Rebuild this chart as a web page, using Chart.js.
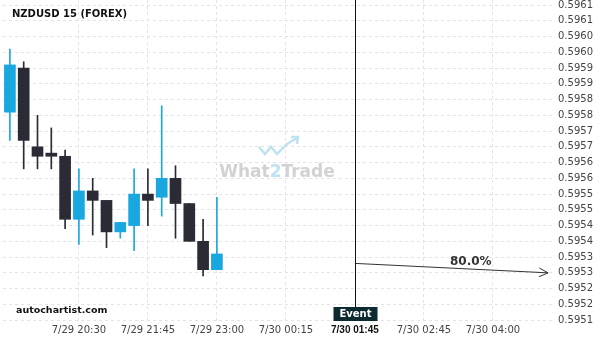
<!DOCTYPE html>
<html>
<head>
<meta charset="utf-8">
<script src="https://cdn.jsdelivr.net/npm/chart.js@4"></script>
<style>
  html, body { margin: 0; padding: 0; background: #fff; }
  #wrap { width: 600px; height: 340px; position: relative; }
</style>
</head>
<body>
<div id="wrap"><canvas id="myChart"></canvas></div>
<script>
// 15 minute candles, NZDUSD
const times = [
  '7/29 19:15', '7/29 19:30', '7/29 19:45', '7/29 20:00', '7/29 20:15',
  '7/29 20:30', '7/29 20:45', '7/29 21:00', '7/29 21:15', '7/29 21:30',
  '7/29 21:45', '7/29 22:00', '7/29 22:15', '7/29 22:30', '7/29 22:45',
  '7/29 23:00', '7/29 23:15', '7/29 23:30', '7/29 23:45', '7/30 00:00',
  '7/30 00:15', '7/30 00:30', '7/30 00:45', '7/30 01:00', '7/30 01:15',
  '7/30 01:30', '7/30 01:45', '7/30 02:00', '7/30 02:15', '7/30 02:30',
  '7/30 02:45', '7/30 03:00', '7/30 03:15', '7/30 03:30', '7/30 03:45',
  '7/30 04:00', '7/30 04:15', '7/30 04:30', '7/30 04:45', '7/30 05:00'
];
const opens  = [0.59576, 0.59590, 0.59565, 0.59563, 0.59562, 0.59542, 0.59551, 0.59548, 0.59538, 0.59540, 0.59550, 0.59549, 0.59555, 0.59547, 0.59535, 0.59526];
const highs  = [0.59596, 0.59592, 0.59575, 0.59571, 0.59564, 0.59558, 0.59555, 0.59548, 0.59541, 0.59558, 0.59558, 0.59578, 0.59559, 0.59547, 0.59542, 0.59549];
const lows   = [0.59567, 0.59558, 0.59558, 0.59558, 0.59539, 0.59534, 0.59537, 0.59533, 0.59536, 0.59532, 0.59540, 0.59543, 0.59536, 0.59535, 0.59524, 0.59526];
const closes = [0.59591, 0.59567, 0.59562, 0.59562, 0.59542, 0.59551, 0.59548, 0.59538, 0.59541, 0.59550, 0.59548, 0.59555, 0.59547, 0.59535, 0.59526, 0.59531];

const yTickValues = [0.59510, 0.59515, 0.59520, 0.59525, 0.59530, 0.59535, 0.59540, 0.59545, 0.59550, 0.59555,
                     0.59560, 0.59565, 0.59570, 0.59575, 0.59580, 0.59585, 0.59590, 0.59595, 0.59600, 0.59605, 0.59610];
const yTickLabels = ['0.5951', '0.5952', '0.5952', '0.5953', '0.5953', '0.5954', '0.5954', '0.5955', '0.5955', '0.5956',
                     '0.5956', '0.5957', '0.5957', '0.5958', '0.5958', '0.5959', '0.5959', '0.5960', '0.5960', '0.5961', '0.5961'];
const xTickIdx = [5, 10, 15, 20, 25, 30, 35];

const eventIdx = 25;
const eventLabel = '7/30 01:45';
const arrowFrom = 0.59528;
const arrowTo = 0.59525;
const arrowEndIdx = 39;
const probability = '80.0%';

const upColor = '#19a7e0';
const downColor = '#2a2b35';
const FONT = 'DejaVu Sans';

const candleColors = opens.map((o, i) => closes[i] >= o ? upColor : downColor);
const wickData = lows.map((l, i) => [l, highs[i]]);
const bodyData = opens.map((o, i) => [o, closes[i]]);
const arrowData = times.map((t, i) => i === eventIdx ? arrowFrom : (i === arrowEndIdx ? arrowTo : null));

const overlay = {
  id: 'overlay',
  beforeDatasetsDraw(chart) {
    const { ctx, chartArea } = chart;
    const cx = (chartArea.left + chartArea.right) / 2 - 2;
    const cy = (chartArea.top + chartArea.bottom) / 2 + 12;
    ctx.save();
    ctx.font = 'bold 17px ' + FONT;
    ctx.textBaseline = 'middle';
    const parts = [['What', '#d2d2d2'], ['2', '#bfe2f2'], ['Trade', '#d2d2d2']];
    const total = parts.reduce((s, p) => s + ctx.measureText(p[0]).width, 0);
    let x = cx - total / 2;
    parts.forEach(p => {
      ctx.fillStyle = p[1];
      ctx.fillText(p[0], x, cy);
      x += ctx.measureText(p[0]).width;
    });
    // small logo
    ctx.strokeStyle = '#bfe2f2';
    ctx.lineWidth = 2.5;
    ctx.beginPath();
    ctx.moveTo(cx - 18, cy - 26);
    ctx.lineTo(cx - 12, cy - 19);
    ctx.lineTo(cx - 6, cy - 26);
    ctx.lineTo(cx, cy - 19);
    ctx.lineTo(cx + 10, cy - 29);
    ctx.lineTo(cx + 20, cy - 35);
    ctx.stroke();
    ctx.beginPath();
    ctx.moveTo(cx + 14, cy - 36);
    ctx.lineTo(cx + 21, cy - 36);
    ctx.lineTo(cx + 20, cy - 29);
    ctx.stroke();
    ctx.restore();
  },
  afterDatasetsDraw(chart) {
    const { ctx, chartArea } = chart;
    const xs = chart.scales.x;
    const ex = Math.round(xs.getPixelForValue(eventIdx)) + 0.5;
    ctx.save();
    // event line + tag
    const boxH = 14, boxW = 44;
    const boxTop = chartArea.bottom - boxH - 1;
    ctx.strokeStyle = '#111';
    ctx.lineWidth = 1;
    ctx.beginPath();
    ctx.moveTo(ex, chartArea.top);
    ctx.lineTo(ex, boxTop);
    ctx.stroke();
    ctx.fillStyle = '#0c2a30';
    ctx.fillRect(ex - boxW / 2, boxTop, boxW, boxH);
    ctx.fillStyle = '#fff';
    ctx.font = 'bold 10px ' + FONT;
    ctx.textAlign = 'center';
    ctx.textBaseline = 'middle';
    ctx.fillText('Event', ex, boxTop + boxH / 2 + 0.5);

    // arrow head + probability
    const meta = chart.getDatasetMeta(2);
    const p0 = meta.data[eventIdx], p1 = meta.data[arrowEndIdx];
    const ang = Math.atan2(p1.y - p0.y, p1.x - p0.x);
    ctx.strokeStyle = '#333';
    ctx.beginPath();
    ctx.moveTo(p1.x - 10 * Math.cos(ang - 0.45), p1.y - 10 * Math.sin(ang - 0.45));
    ctx.lineTo(p1.x, p1.y);
    ctx.lineTo(p1.x - 10 * Math.cos(ang + 0.45), p1.y - 10 * Math.sin(ang + 0.45));
    ctx.stroke();
    const tx = p0.x + (p1.x - p0.x) * 0.6;
    const ty = p0.y + (p1.y - p0.y) * 0.6;
    ctx.fillStyle = '#333';
    ctx.font = 'bold 12px ' + FONT;
    ctx.fillText(probability, tx, ty - 7);

    // captions
    ctx.textAlign = 'left';
    ctx.fillStyle = '#111';
    ctx.font = 'bold 10px ' + FONT;
    ctx.fillText('NZDUSD 15 (FOREX)', 12, 14);
    ctx.font = 'bold 9.5px ' + FONT;
    ctx.fillText('autochartist.com', 16, 311);
    ctx.restore();
  }
};

new Chart(document.getElementById('myChart').getContext('2d'), {
  type: 'bar',
  data: {
    labels: times,
    datasets: [
      {
        data: wickData,
        backgroundColor: candleColors,
        barThickness: 1,
        grouped: false,
        order: 3
      },
      {
        data: bodyData,
        backgroundColor: candleColors,
        barThickness: 11,
        minBarLength: 2,
        grouped: false,
        order: 2
      },
      {
        type: 'line',
        data: arrowData,
        borderColor: '#333',
        borderWidth: 1,
        pointRadius: 0,
        spanGaps: true,
        order: 1
      }
    ]
  },
  options: {
    responsive: true,
    maintainAspectRatio: false,
    animation: false,
    layout: { padding: { left: 3, top: 0, right: 0, bottom: 0 } },
    plugins: { legend: { display: false }, tooltip: { enabled: false } },
    scales: {
      x: {
        offset: true,
        grid: {
          offset: false,
          drawTicks: false,
          color: (c) => (xTickIdx.includes(c.index) && c.index !== eventIdx) ? '#e3e3e3' : 'rgba(0,0,0,0)'
        },
        border: { display: false, dash: [3, 3] },
        ticks: {
          autoSkip: false,
          maxRotation: 0,
          padding: 2,
          color: (c) => c.index === eventIdx ? '#111' : '#444',
          font: (c) => c.index === eventIdx
            ? { family: 'Liberation Sans', size: 10, weight: 'bold' }
            : { family: FONT, size: 10 },
          callback: (v, i) => xTickIdx.includes(i) ? (i === eventIdx ? eventLabel : times[i]) : ''
        },
        afterFit: (s) => { s.height = 18; s.paddingLeft = 0; s.paddingRight = 0; }
      },
      y: {
        position: 'right',
        min: 0.595094,
        max: 0.596116,
        grid: { color: '#e3e3e3', drawTicks: false },
        border: { display: false, dash: [3, 3] },
        afterBuildTicks: (s) => { s.ticks = yTickValues.map(v => ({ value: v })); },
        ticks: {
          padding: 3,
          color: '#444',
          font: { family: FONT, size: 10 },
          callback: (v, i) => yTickLabels[i]
        },
        afterFit: (s) => { s.width = 45; s.paddingTop = 0; s.paddingBottom = 0; }
      }
    }
  },
  plugins: [overlay]
});
</script>
</body>
</html>
